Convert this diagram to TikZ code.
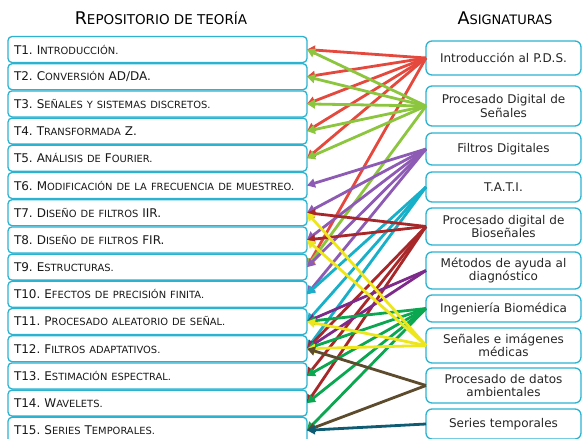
\documentclass[tikz,border=0pt]{standalone}
\usepackage{fontspec}
\setmainfont{DejaVu Sans}
\usepackage{xcolor}
\usetikzlibrary{arrows.meta,positioning}
\frenchspacing

\definecolor{boxblue}{HTML}{2BB3D0}
\definecolor{introred}{HTML}{E5493E}
\definecolor{pdsgreen}{HTML}{8CC63E}
\definecolor{filtpurple}{HTML}{8E5BB4}
\definecolor{taticyan}{HTML}{18AFC9}
\definecolor{biored}{HTML}{A8282A}
\definecolor{metpurple}{HTML}{7D2A8A}
\definecolor{inggreen}{HTML}{0BA650}
\definecolor{imgyellow}{HTML}{EEE61C}
\definecolor{ambbrown}{HTML}{5C4B2C}
\definecolor{serteal}{HTML}{0D5C73}

% small caps by hand
\newcommand\smc[2][9.9]{{\fontsize{#1}{#1}\selectfont\MakeUppercase{#2}}}

\begin{document}
\begin{tikzpicture}[x=1pt,y=-1pt,
	topic/.style={draw=boxblue, line width=1.3pt, rounded corners=4pt, fill=white, outer sep=0pt,
		text width=287pt, inner xsep=6pt, inner ysep=1pt, minimum height=26pt, align=left,
		font=\fontsize{12}{13}\selectfont, text=black!90},
	subject/.style={draw=boxblue, line width=1.3pt, rounded corners=6pt, fill=white, outer sep=0pt,
		text width=149pt, inner xsep=3pt, inner ysep=1pt, minimum height=30pt, align=center,
		font=\fontsize{12}{13.2}\selectfont, text=black!85},
	link/.style={line width=2.8pt, -{Triangle[length=8pt,width=9pt]}},
	heading/.style={font=\fontsize{17.5}{20}\selectfont, text=black}]
	\useasboundingbox (0,0) rectangle (582,439);

	% column titles
	\node[heading] (reptitle) at (161,18) {R\smc[13.5]{epositorio de teoría}};
	\node[heading] (asigtitle) at (505,18) {A\smc[13]{signaturas}};

	% theory topics
	\node[topic, anchor=west] (t1) at (8,49.5) {T1. I\smc{ntroducción.}};
	\node[topic, below=1.2pt of t1] (t2) {T2. C\smc{onversión} AD/DA.};
	\node[topic, below=1.2pt of t2] (t3) {T3. S\smc{eñales y sistemas discretos.}};
	\node[topic, below=1.2pt of t3] (t4) {T4. T\smc{ransformada} Z.};
	\node[topic, below=1.2pt of t4] (t5) {T5. A\smc{nálisis de} F\smc{ourier.}};
	\node[topic, below=1.2pt of t5] (t6) {T6. M\smc{odificación de la frecuencia de muestreo.}};
	\node[topic, below=1.2pt of t6] (t7) {T7. D\smc{iseño de filtros} IIR.};
	\node[topic, below=1.2pt of t7] (t8) {T8. D\smc{iseño de filtros} FIR.};
	\node[topic, below=1.2pt of t8] (t9) {T9. E\smc{structuras.}};
	\node[topic, below=1.2pt of t9] (t10) {T10. E\smc{fectos de precisión finita.}};
	\node[topic, below=1.2pt of t10] (t11) {T11. P\smc{rocesado aleatorio de señal.}};
	\node[topic, below=1.2pt of t11] (t12) {T12. F\smc{iltros adaptativos.}};
	\node[topic, below=1.2pt of t12] (t13) {T13. E\smc{stimación espectral.}};
	\node[topic, below=1.2pt of t13] (t14) {T14. W\smc{avelets.}};
	\node[topic, below=1.2pt of t14] (t15) {T15. S\smc{eries} T\smc{emporales.}};

	% subjects
	\node[subject, minimum height=34pt] (intro) at (503.5,58) {Introducción al P.D.S.};
	\node[subject, minimum height=40pt] (pds) at (503.5,106) {Procesado Digital de\\Señales};
	\node[subject, minimum height=32pt] (filtros) at (503.5,149) {Filtros Digitales};
	\node[subject] (tati) at (503.5,187) {T.A.T.I.};
	\node[subject, minimum height=37pt] (bio) at (503.5,226.5) {Procesado digital de\\Bioseñales};
	\node[subject, minimum height=37pt] (metodos) at (503.5,270.5) {Métodos de ayuda al\\diagnóstico};
	\node[subject, minimum height=27pt] (ingbio) at (503.5,308.5) {Ingeniería Biomédica};
	\node[subject, minimum height=35pt] (imagenes) at (503.5,345.5) {Señales e imágenes\\médicas};
	\node[subject, minimum height=35pt] (ambient) at (503.5,385.5) {Procesado de datos\\ambientales};
	\node[subject, minimum height=30pt] (series) at (503.5,424) {Series temporales};

	% links subject -> topic
	\foreach \t in {1,2,3,4,5,9} \draw[link, introred] (intro.west) -- (t\t.east);
	\foreach \t in {1,2,3,4,5,9} \draw[link, pdsgreen] (pds.west) -- (t\t.east);
	\foreach \t in {6,7,8,9,10} \draw[link, filtpurple] (filtros.west) -- (t\t.east);
	\foreach \t in {10,11,12} \draw[link, taticyan] (tati.west) -- (t\t.east);
	\foreach \t in {7,8,12,13,14} \draw[link, biored] (bio.west) -- (t\t.east);
	\foreach \t in {11,12} \draw[link, metpurple] (metodos.west) -- (t\t.east);
	\foreach \t in {11,12,13,14,15} \draw[link, inggreen] (ingbio.west) -- (t\t.east);
	\foreach \t in {7,8,11,12} \draw[link, imgyellow] (imagenes.west) -- (t\t.east);
	\foreach \t in {12,15} \draw[link, ambbrown] (ambient.west) -- (t\t.east);
	\draw[link, serteal] (series.west) -- (t15.east);
\end{tikzpicture}
\end{document}
